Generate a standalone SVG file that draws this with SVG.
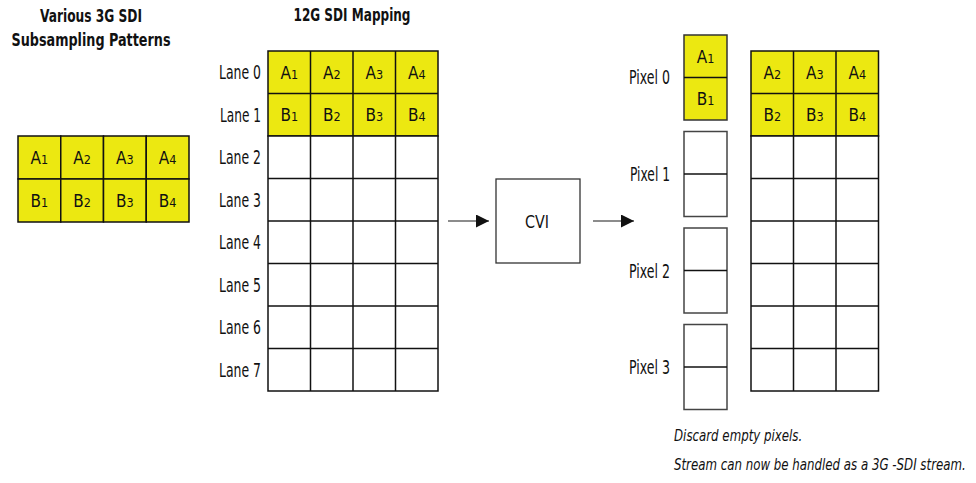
<svg xmlns="http://www.w3.org/2000/svg" width="976" height="483" viewBox="0 0 976 483">
<style>
.y{fill:#ECE811;stroke:#111;stroke-width:1.5}
.w{fill:#fff;stroke:#111;stroke-width:1.5}
.pb{fill:#fff;stroke:#444;stroke-width:1.5}
.py{fill:#ECE811;stroke:#333;stroke-width:1.5}
.ln{stroke:#111;stroke-width:1.5}
text{font-family:"Liberation Sans Narrow","DejaVu Sans Condensed","Liberation Sans",sans-serif;fill:#111}
.t{font-size:17px;font-weight:bold;text-anchor:middle}
.lb{font-size:19px;text-anchor:end}
.c{font-size:17px;text-anchor:middle}
.s{font-size:12.5px}
.it{font-size:16.5px;font-style:italic}
.sh{stroke:#666;stroke-width:1.3;fill:none}
</style>
<defs>
<marker id="ah" markerWidth="14" markerHeight="14" refX="13" refY="6.5" orient="auto" markerUnits="userSpaceOnUse">
<path d="M0,0 L13,6.5 L0,13 Z" fill="#111"/>
</marker>
</defs>

<g id="title-left">
<text class="t" x="91" y="21.5" textLength="102" lengthAdjust="spacingAndGlyphs">Various 3G SDI</text>
<text class="t" x="91" y="45.5" textLength="159" lengthAdjust="spacingAndGlyphs">Subsampling Patterns</text>
</g>
<g id="title-mid">
<text class="t" x="352" y="21" textLength="117" lengthAdjust="spacingAndGlyphs">12G SDI Mapping</text>
</g>

<g id="subsampling-pattern">
<rect class="y" x="18" y="136" width="42.75" height="43"/>
<rect class="y" x="60.75" y="136" width="42.75" height="43"/>
<rect class="y" x="103.5" y="136" width="42.75" height="43"/>
<rect class="y" x="146.25" y="136" width="42.75" height="43"/>
<rect class="y" x="18" y="179" width="42.75" height="43"/>
<rect class="y" x="60.75" y="179" width="42.75" height="43"/>
<rect class="y" x="103.5" y="179" width="42.75" height="43"/>
<rect class="y" x="146.25" y="179" width="42.75" height="43"/>
<text class="c" x="39.4" y="163.5">A<tspan class="s">1</tspan></text>
<text class="c" x="82.1" y="163.5">A<tspan class="s">2</tspan></text>
<text class="c" x="124.9" y="163.5">A<tspan class="s">3</tspan></text>
<text class="c" x="167.6" y="163.5">A<tspan class="s">4</tspan></text>
<text class="c" x="39.4" y="206.5">B<tspan class="s">1</tspan></text>
<text class="c" x="82.1" y="206.5">B<tspan class="s">2</tspan></text>
<text class="c" x="124.9" y="206.5">B<tspan class="s">3</tspan></text>
<text class="c" x="167.6" y="206.5">B<tspan class="s">4</tspan></text>
</g>

<g id="sdi12g-mapping">
<rect class="y" x="268" y="51" width="170" height="85"/>
<rect class="w" x="268" y="136" width="170" height="255"/>
<line class="ln" x1="268" y1="93.5" x2="438" y2="93.5"/>
<line class="ln" x1="268" y1="178.5" x2="438" y2="178.5"/>
<line class="ln" x1="268" y1="221" x2="438" y2="221"/>
<line class="ln" x1="268" y1="263.5" x2="438" y2="263.5"/>
<line class="ln" x1="268" y1="306" x2="438" y2="306"/>
<line class="ln" x1="268" y1="348.5" x2="438" y2="348.5"/>
<line class="ln" x1="310.5" y1="51" x2="310.5" y2="391"/>
<line class="ln" x1="353" y1="51" x2="353" y2="391"/>
<line class="ln" x1="395.5" y1="51" x2="395.5" y2="391"/>
<text class="c" x="289.3" y="78.5">A<tspan class="s">1</tspan></text>
<text class="c" x="331.8" y="78.5">A<tspan class="s">2</tspan></text>
<text class="c" x="374.3" y="78.5">A<tspan class="s">3</tspan></text>
<text class="c" x="416.8" y="78.5">A<tspan class="s">4</tspan></text>
<text class="c" x="289.3" y="121">B<tspan class="s">1</tspan></text>
<text class="c" x="331.8" y="121">B<tspan class="s">2</tspan></text>
<text class="c" x="374.3" y="121">B<tspan class="s">3</tspan></text>
<text class="c" x="416.8" y="121">B<tspan class="s">4</tspan></text>
<text class="lb" x="261" y="79" textLength="42" lengthAdjust="spacingAndGlyphs">Lane 0</text>
<text class="lb" x="261" y="121.5" textLength="41" lengthAdjust="spacingAndGlyphs">Lane 1</text>
<text class="lb" x="261" y="164" textLength="42" lengthAdjust="spacingAndGlyphs">Lane 2</text>
<text class="lb" x="261" y="206.5" textLength="42" lengthAdjust="spacingAndGlyphs">Lane 3</text>
<text class="lb" x="261" y="249" textLength="42" lengthAdjust="spacingAndGlyphs">Lane 4</text>
<text class="lb" x="261" y="291.5" textLength="42" lengthAdjust="spacingAndGlyphs">Lane 5</text>
<text class="lb" x="261" y="334" textLength="42" lengthAdjust="spacingAndGlyphs">Lane 6</text>
<text class="lb" x="261" y="376.5" textLength="42" lengthAdjust="spacingAndGlyphs">Lane 7</text>
</g>

<g id="cvi">
<rect x="496" y="179" width="84" height="84" fill="#fff" stroke="#333" stroke-width="1.3"/>
<text class="c" x="537" y="227.5" style="font-size:18px" textLength="24" lengthAdjust="spacingAndGlyphs">CVI</text>
</g>

<g id="pixels">
<rect class="py" x="684" y="35" width="43" height="85"/>
<line class="ln" x1="684" y1="77.5" x2="727" y2="77.5"/>
<text class="c" x="705.5" y="62.5">A<tspan class="s">1</tspan></text>
<text class="c" x="705.5" y="104.5">B<tspan class="s">1</tspan></text>
<rect class="pb" x="684" y="131.5" width="43" height="85"/>
<line class="ln" x1="684" y1="174" x2="727" y2="174"/>
<rect class="pb" x="684" y="228" width="43" height="85"/>
<line class="ln" x1="684" y1="270.5" x2="727" y2="270.5"/>
<rect class="pb" x="684" y="324.5" width="43" height="85"/>
<line class="ln" x1="684" y1="367" x2="727" y2="367"/>
<text class="lb" x="670" y="84" textLength="41" lengthAdjust="spacingAndGlyphs">Pixel 0</text>
<text class="lb" x="670" y="180.5" textLength="40" lengthAdjust="spacingAndGlyphs">Pixel 1</text>
<text class="lb" x="670" y="277.5" textLength="41" lengthAdjust="spacingAndGlyphs">Pixel 2</text>
<text class="lb" x="670" y="373.5" textLength="41" lengthAdjust="spacingAndGlyphs">Pixel 3</text>
</g>

<g id="output-grid">
<rect class="y" x="751" y="51" width="127.5" height="85"/>
<rect class="w" x="751" y="136" width="127.5" height="255"/>
<line class="ln" x1="751" y1="93.5" x2="878.5" y2="93.5"/>
<line class="ln" x1="751" y1="178.5" x2="878.5" y2="178.5"/>
<line class="ln" x1="751" y1="221" x2="878.5" y2="221"/>
<line class="ln" x1="751" y1="263.5" x2="878.5" y2="263.5"/>
<line class="ln" x1="751" y1="306" x2="878.5" y2="306"/>
<line class="ln" x1="751" y1="348.5" x2="878.5" y2="348.5"/>
<line class="ln" x1="793.5" y1="51" x2="793.5" y2="391"/>
<line class="ln" x1="836" y1="51" x2="836" y2="391"/>
<text class="c" x="772.3" y="78.5">A<tspan class="s">2</tspan></text>
<text class="c" x="814.8" y="78.5">A<tspan class="s">3</tspan></text>
<text class="c" x="857.3" y="78.5">A<tspan class="s">4</tspan></text>
<text class="c" x="772.3" y="121">B<tspan class="s">2</tspan></text>
<text class="c" x="814.8" y="121">B<tspan class="s">3</tspan></text>
<text class="c" x="857.3" y="121">B<tspan class="s">4</tspan></text>
</g>

<g id="note">
<text class="it" transform="translate(674,441) scale(0.75,1)" x="0" y="0" textLength="171" lengthAdjust="spacingAndGlyphs">Discard empty pixels.</text>
<text class="it" transform="translate(674,470) scale(0.75,1)" x="0" y="0" textLength="389" lengthAdjust="spacingAndGlyphs">Stream can now be handled as a 3G -SDI stream.</text>
</g>

<g id="connectors">
<line class="sh" x1="448" y1="221" x2="489" y2="221" marker-end="url(#ah)"/>
<line class="sh" x1="593" y1="221" x2="634" y2="221" marker-end="url(#ah)"/>
</g>
</svg>
